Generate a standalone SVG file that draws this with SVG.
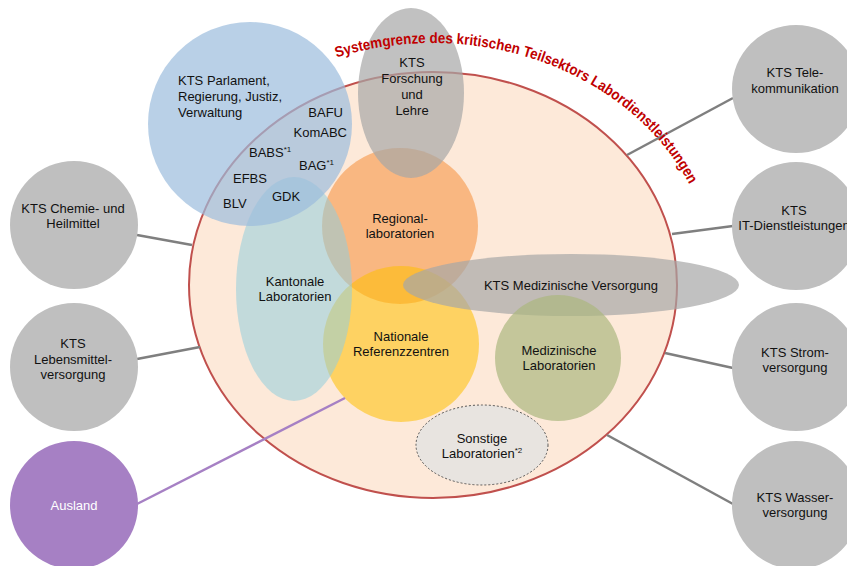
<svg xmlns="http://www.w3.org/2000/svg" width="847" height="566" viewBox="0 0 847 566">
<style>
text{font-family:"Liberation Sans",Arial,sans-serif;font-size:13px;fill:#111}
.c{text-anchor:middle}
.e{text-anchor:end}
.sup{font-size:8px}
.ext{fill:#BFBFBF}
.con{stroke:#7F7F7F;stroke-width:2.5;fill:none}
.title{font-family:"Liberation Sans",Arial,sans-serif;font-weight:bold;font-size:15px;fill:#C00000}
</style>
<defs>
<path id="arc" d="M 336.6 57.6 A 282 242 0 0 1 689.8 185"/>
</defs>
<g id="system">
<ellipse cx="433" cy="285" rx="244" ry="213" fill="#FDE9D9" stroke="#C0504D" stroke-width="2"/>
</g>
<g id="regional">
<circle cx="400" cy="226" r="78" fill="#F79646" fill-opacity="0.6"/>
<text class="c" x="400" y="222.5">Regional-</text>
<text class="c" x="400" y="238">laboratorien</text>
</g>
<g id="nationale">
<circle cx="401" cy="344" r="78" fill="#FFC000" fill-opacity="0.55"/>
</g>
<g id="kantonale">
<ellipse cx="294" cy="289" rx="58" ry="112" fill="#92CDDC" fill-opacity="0.55"/>
<text class="c" x="295" y="286">Kantonale</text>
<text class="c" x="295" y="301">Laboratorien</text>
</g>
<g id="parlament">
<circle cx="250" cy="124" r="102" fill="#9BBCDD" fill-opacity="0.7"/>
<text x="178" y="85">KTS Parlament,</text>
<text x="178" y="101">Regierung, Justiz,</text>
<text x="178" y="117">Verwaltung</text>
<text class="e" x="343" y="117">BAFU</text>
<text class="e" x="347" y="137">KomABC</text>
<text x="249" y="157">BABS<tspan class="sup" dy="-5">*1</tspan></text>
<text x="299" y="170">BAG<tspan class="sup" dy="-5">*1</tspan></text>
<text x="233" y="183">EFBS</text>
<text x="272" y="201">GDK</text>
<text x="223" y="208">BLV</text>
</g>
<g id="forschung">
<ellipse cx="411" cy="93" rx="53" ry="85" fill="#A6A6A6" fill-opacity="0.7"/>
<text class="c" x="412" y="66.5">KTS</text>
<text class="c" x="412" y="82.5">Forschung</text>
<text class="c" x="412" y="98.5">und</text>
<text class="c" x="412" y="114.5">Lehre</text>
</g>
<g id="nationale-label">
<text class="c" x="401" y="341">Nationale</text>
<text class="c" x="401" y="356">Referenzzentren</text>
</g>
<g id="med-versorgung">
<ellipse cx="571" cy="285" rx="168" ry="31" fill="#A6A6A6" fill-opacity="0.7"/>
<text class="c" x="571" y="290">KTS Medizinische Versorgung</text>
</g>
<g id="med-labs">
<circle cx="558" cy="358" r="63" fill="#ABB77F" fill-opacity="0.7"/>
<text class="c" x="559" y="355">Medizinische</text>
<text class="c" x="559" y="370">Laboratorien</text>
</g>
<g id="sonstige">
<ellipse cx="482" cy="445" rx="66" ry="40" fill="#E8E4E0" stroke="#555" stroke-width="1" stroke-dasharray="2,2"/>
<text class="c" x="482" y="443">Sonstige</text>
<text class="c" x="482" y="458">Laboratorien<tspan class="sup" dy="-5">*2</tspan></text>
</g>
<g id="connectors">
<line class="con" x1="627" y1="155" x2="733" y2="98"/>
<line class="con" x1="672" y1="234" x2="733" y2="226"/>
<line class="con" x1="665" y1="353" x2="733" y2="368"/>
<line class="con" x1="607" y1="435" x2="733" y2="504"/>
<line class="con" x1="137" y1="235" x2="192" y2="245"/>
<line class="con" x1="137" y1="359" x2="200" y2="347"/>
<line x1="137" y1="504" x2="345" y2="398" stroke="#A680C4" stroke-width="2.5"/>
</g>
<g id="title">
<text class="title"><textPath href="#arc" textLength="405" lengthAdjust="spacingAndGlyphs">Systemgrenze des kritischen Teilsektors Labordienstleistungen</textPath></text>
</g>
<g id="chemie">
<circle class="ext" cx="74" cy="225" r="64"/>
<text class="c" x="73" y="213">KTS Chemie- und</text>
<text class="c" x="73" y="228">Heilmittel</text>
</g>
<g id="lebensmittel">
<circle class="ext" cx="74" cy="367" r="64"/>
<text class="c" x="73" y="348">KTS</text>
<text class="c" x="73" y="364">Lebensmittel-</text>
<text class="c" x="73" y="379">versorgung</text>
</g>
<g id="ausland">
<circle cx="74" cy="505" r="64" fill="#A680C4"/>
<text class="c" x="74" y="510" style="fill:#fff">Ausland</text>
</g>
<g id="tele">
<circle class="ext" cx="796" cy="89" r="64"/>
<text class="c" x="795" y="77">KTS Tele-</text>
<text class="c" x="795" y="93">kommunikation</text>
</g>
<g id="it">
<circle class="ext" cx="796" cy="226" r="64"/>
<text class="c" x="794" y="215">KTS</text>
<text class="c" x="794" y="230">IT-Dienstleistungen</text>
</g>
<g id="strom">
<circle class="ext" cx="796" cy="367" r="64"/>
<text class="c" x="795" y="357">KTS Strom-</text>
<text class="c" x="795" y="372">versorgung</text>
</g>
<g id="wasser">
<circle class="ext" cx="796" cy="505" r="64"/>
<text class="c" x="795" y="502">KTS Wasser-</text>
<text class="c" x="795" y="517">versorgung</text>
</g>
</svg>
